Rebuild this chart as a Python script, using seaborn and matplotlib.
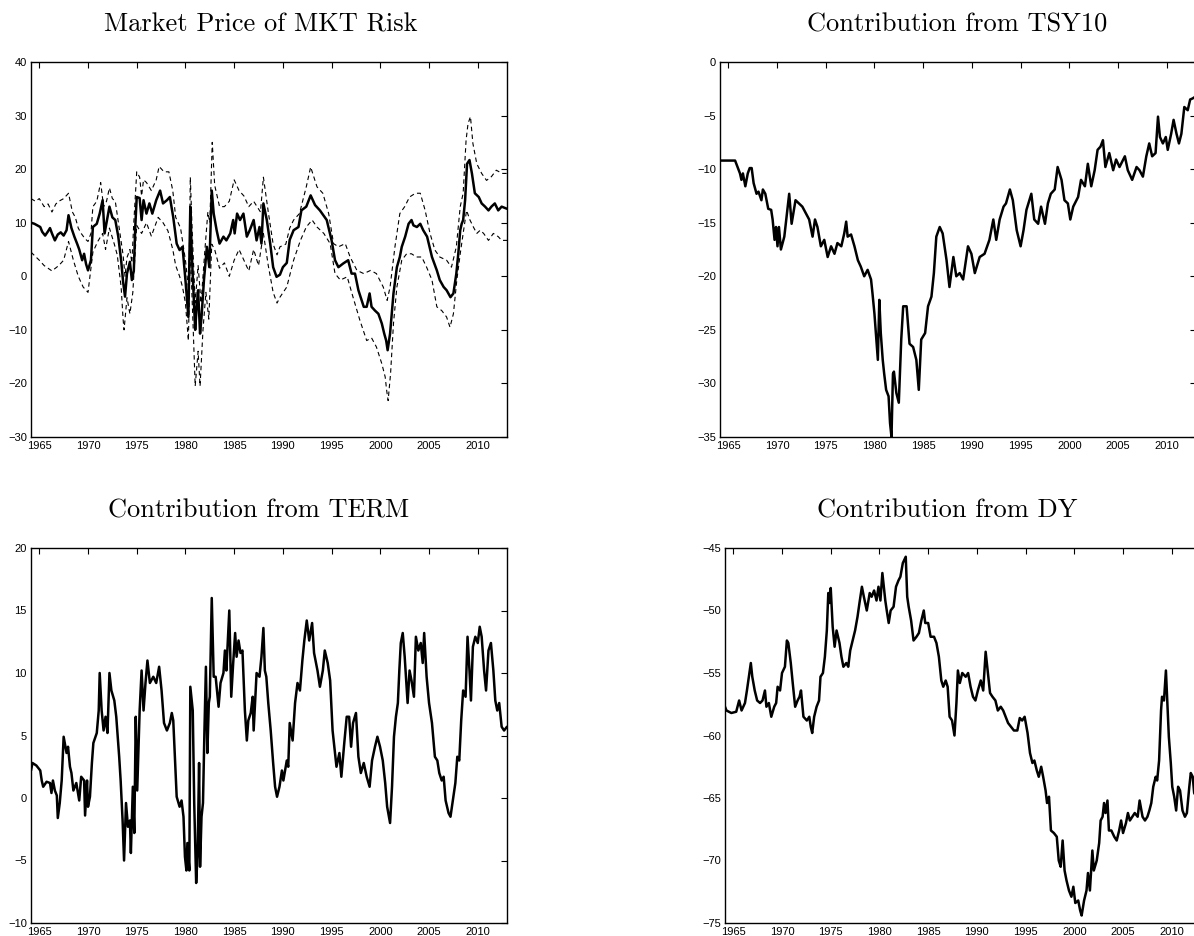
import matplotlib
matplotlib.use("Agg")
import matplotlib.pyplot as plt
import pandas as pd
import seaborn as sns

# ---- data (decimal years, values) ----
mkt_t = [1964.15, 1964.5, 1965.1, 1965.3, 1965.6, 1965.9, 1966.1, 1966.3, 1966.6, 1966.9,
         1967.2, 1967.5, 1967.8, 1968.0, 1968.3, 1968.6, 1968.9, 1969.1, 1969.4, 1969.6,
         1969.8, 1970.0, 1970.3, 1970.5, 1970.9, 1971.2, 1971.5, 1971.7, 1972.0, 1972.2,
         1972.5, 1972.8, 1973.1, 1973.4, 1973.6, 1973.8, 1974.0, 1974.3, 1974.5, 1974.7,
         1974.85, 1975.0, 1975.3, 1975.5, 1975.7, 1976.0, 1976.3, 1976.6, 1977.0, 1977.4,
         1977.7, 1978.1, 1978.4, 1978.75, 1979.1, 1979.4, 1979.7, 1980.0, 1980.3, 1980.5,
         1980.65, 1981.0, 1981.15, 1981.3, 1981.5, 1981.65, 1981.9, 1982.2, 1982.45, 1982.7,
         1982.9, 1983.2, 1983.5, 1983.9, 1984.2, 1984.6, 1984.9, 1985.05, 1985.3, 1985.6,
         1985.95, 1986.3, 1986.6, 1987.0, 1987.3, 1987.6, 1987.8, 1988.0, 1988.35, 1988.7,
         1989.0, 1989.35, 1989.7, 1990.0, 1990.4, 1990.7, 1991.1, 1991.6, 1991.9, 1992.4,
         1992.85, 1993.3, 1993.8, 1994.5, 1995.0, 1995.35, 1995.7, 1996.2, 1996.7, 1997.05,
         1997.4, 1997.75, 1998.3, 1998.6, 1998.9, 1999.1, 1999.45, 1999.8, 2000.15, 2000.4,
         2000.6, 2000.75, 2001.0, 2001.35, 2001.7, 2002.0, 2002.2, 2002.55, 2002.9, 2003.2,
         2003.4, 2003.75, 2004.1, 2004.4, 2004.8, 2005.3, 2005.8, 2006.1, 2006.5, 2006.8,
         2007.2, 2007.5, 2007.8, 2008.0, 2008.2, 2008.35, 2008.5, 2008.7, 2008.9, 2009.15,
         2009.4, 2009.7, 2010.1, 2010.4, 2010.75, 2011.1, 2011.4, 2011.75, 2012.1, 2012.45,
         2013.0]
mkt_mid = [10.0, 9.8, 9.2, 8.3, 7.6, 8.4, 9.0, 8.0, 6.7, 7.8,
           8.2, 7.6, 8.6, 11.4, 9.0, 7.4, 6.0, 5.0, 3.0, 4.2,
           2.3, 1.1, 3.0, 9.2, 9.8, 11.7, 14.2, 8.0, 11.0, 13.0,
           11.0, 10.5, 7.5, 3.0, -1.0, -3.8, 0.5, 2.7, -0.7, 1.0,
           9.2, 14.8, 14.6, 10.5, 14.2, 11.7, 13.6, 11.7, 14.2, 16.0,
           13.6, 14.2, 14.8, 11.0, 6.1, 4.9, 5.5, -0.7, -7.6, 13.0,
           4.2, -10.0, -5.7, -2.6, -10.7, -7.6, -0.7, 5.5, 1.7, 16.0,
           11.7, 8.6, 6.1, 7.4, 6.7, 8.0, 10.5, 8.0, 11.7, 10.5,
           11.7, 7.4, 8.6, 10.5, 6.7, 9.2, 6.1, 13.6, 10.5, 6.1,
           1.7, -0.1, 0.3, 1.7, 2.5, 6.8, 8.6, 9.2, 12.3, 13.0,
           15.1, 13.3, 12.3, 10.5, 6.7, 3.0, 1.7, 2.4, 3.0, 0.5,
           0.5, -2.6, -5.7, -5.7, -3.2, -5.7, -6.4, -7.0, -8.8, -10.7,
           -12.0, -13.8, -10.7, -3.2, 1.7, 3.6, 5.5, 7.4, 9.8, 10.5,
           9.5, 9.2, 9.8, 8.6, 7.4, 3.6, 1.1, -0.7, -2.0, -2.6,
           -3.9, -3.2, 0.5, 4.2, 8.6, 9.8, 10.5, 14.2, 21.0, 21.7,
           19.2, 15.5, 14.8, 13.6, 13.0, 12.3, 13.0, 13.6, 12.3, 13.0,
           12.6]

upper_t = [1964.15, 1964.6, 1965.0, 1965.5, 1965.9, 1966.3, 1966.7, 1967.0, 1967.5, 1968.0,
           1968.4, 1968.7, 1969.0, 1969.3, 1969.7, 1970.0, 1970.3, 1970.5, 1970.9, 1971.3,
           1971.6, 1971.9, 1972.2, 1972.5, 1972.8, 1973.2, 1973.6, 1973.8, 1974.0, 1974.3,
           1974.5, 1974.7, 1975.0, 1975.3, 1975.5, 1975.7, 1976.0, 1976.5, 1977.0, 1977.3,
           1977.8, 1978.3, 1978.7, 1979.0, 1979.5, 1980.0, 1980.35, 1980.5, 1980.7, 1981.0,
           1981.3, 1981.6, 1982.0, 1982.3, 1982.5, 1982.75, 1983.0, 1983.5, 1984.0, 1984.5,
           1985.0, 1985.5, 1986.0, 1986.5, 1987.0, 1987.7, 1988.0, 1988.5, 1989.0, 1989.4,
           1989.7, 1990.3, 1990.7, 1991.1, 1991.7, 1992.4, 1992.85, 1993.5, 1994.1, 1994.7,
           1995.2, 1995.7, 1996.4, 1996.9, 1997.6, 1998.3, 1999.0, 1999.6, 2000.3, 2000.7,
           2001.0, 2001.5, 2002.0, 2002.5, 2003.0, 2003.6, 2004.1, 2004.6, 2005.1, 2005.6,
           2006.1, 2006.8, 2007.3, 2007.8, 2008.2, 2008.5, 2008.8, 2009.0, 2009.25, 2009.5,
           2009.9, 2010.4, 2010.9, 2011.4, 2011.9, 2012.5, 2013.0]
upper_v = [14.5, 14.0, 14.5, 13.0, 13.5, 12.0, 13.5, 14.0, 14.5, 15.5,
           12.0, 11.0, 9.0, 8.0, 7.0, 6.5, 8.0, 13.0, 14.0, 17.5,
           13.0, 14.0, 16.5, 14.5, 14.0, 9.0, 4.0, 0.0, 3.5, 5.0,
           2.5, 10.0, 19.5, 18.5, 15.0, 18.0, 17.5, 16.0, 18.0, 20.5,
           19.5, 19.5, 16.0, 11.0, 9.0, 3.0, -3.0, 18.5, 8.0, -5.0,
           2.0, -5.0, 5.0, 12.0, 10.0, 25.0, 17.0, 13.0, 13.0, 14.0,
           18.0, 16.0, 15.0, 13.0, 14.0, 12.0, 18.5, 12.0, 6.0, 4.0,
           5.5, 6.0, 9.0, 10.5, 11.7, 16.7, 20.4, 16.7, 15.5, 11.7,
           6.1, 5.5, 6.1, 3.6, 1.1, 0.5, 1.1, 0.5, -2.0, -4.5,
           -2.0, 5.5, 11.7, 13.0, 14.8, 15.5, 15.5, 12.3, 8.0, 4.9,
           3.6, 3.0, 1.7, 5.5, 13.0, 15.5, 25.4, 28.5, 29.8, 24.8,
           21.0, 19.2, 17.9, 18.6, 19.8, 19.2, 19.2]

lower_t = [1964.15, 1965.0, 1965.5, 1966.3, 1967.0, 1967.5, 1968.0, 1968.5, 1969.0, 1969.5,
           1970.0, 1970.5, 1971.0, 1971.5, 1971.8, 1972.2, 1972.7, 1973.0, 1973.4, 1973.6,
           1973.7, 1974.0, 1974.3, 1974.6, 1975.0, 1975.5, 1976.0, 1976.5, 1977.2, 1977.7,
           1978.2, 1978.7, 1979.0, 1979.4, 1979.7, 1980.0, 1980.3, 1980.5, 1980.8, 1981.0,
           1981.3, 1981.5, 1981.8, 1982.1, 1982.4, 1982.7, 1983.0, 1983.5, 1984.0, 1984.5,
           1985.0, 1985.5, 1986.0, 1986.5, 1987.0, 1987.5, 1988.0, 1988.5, 1989.0, 1989.4,
           1989.7, 1990.4, 1991.1, 1991.8, 1992.4, 1993.0, 1993.5, 1994.2, 1994.85, 1995.35,
           1995.9, 1996.6, 1997.2, 1997.9, 1998.6, 1999.1, 1999.6, 2000.15, 2000.5, 2000.65,
           2000.8, 2001.05, 2001.35, 2001.7, 2002.2, 2002.7, 2003.2, 2003.7, 2004.25, 2004.75,
           2005.3, 2005.8, 2006.3, 2006.8, 2007.15, 2007.5, 2007.85, 2008.2, 2008.5, 2008.85,
           2009.2, 2009.55, 2009.9, 2010.25, 2010.6, 2011.1, 2011.6, 2012.1, 2012.45, 2013.0]
lower_v = [4.5, 3.0, 2.0, 1.0, 2.0, 3.0, 6.5, 3.0, 0.0, -2.0,
           -3.0, 4.5, 6.5, 8.0, 5.0, 9.0, 6.0, 4.0, -2.0, -8.0,
           -10.0, -4.0, -7.0, -3.0, 9.5, 8.0, 10.0, 7.5, 11.0, 10.0,
           8.5, 5.0, 2.0, 0.0, -2.0, -5.0, -12.0, 5.0, -10.0, -20.5,
           -14.0, -20.5, -10.0, -3.0, -8.0, 6.0, 5.0, 1.5, 2.5, 0.0,
           3.0, 5.0, 3.0, 1.0, 5.0, 2.0, 8.0, 2.0, -3.0, -5.0,
           -3.9, -2.0, 3.0, 6.7, 9.2, 10.5, 9.2, 8.0, 6.1, 0.5,
           -0.7, -0.1, -3.9, -8.2, -12.0, -11.5, -13.2, -16.3, -18.8, -21.3,
           -23.2, -18.2, -8.8, -2.0, 3.0, 4.2, 4.2, 3.6, 3.6, 1.7,
           -0.7, -5.7, -6.4, -7.6, -9.5, -7.0, -0.7, 4.2, 8.0, 12.3,
           10.5, 9.2, 8.0, 8.6, 8.0, 6.7, 8.0, 7.4, 6.7, 6.7]

tsy_t = [1964.15, 1965.0, 1965.7, 1966.2, 1966.35, 1966.5, 1966.75, 1967.0, 1967.2, 1967.4,
         1967.6, 1967.9, 1968.1, 1968.4, 1968.55, 1968.8, 1969.1, 1969.4, 1969.55, 1969.75,
         1969.9, 1970.05, 1970.2, 1970.4, 1970.75, 1971.1, 1971.25, 1971.5, 1971.9, 1972.25,
         1972.6, 1972.95, 1973.3, 1973.65, 1973.9, 1974.15, 1974.5, 1974.85, 1975.2, 1975.55,
         1975.9, 1976.2, 1976.6, 1976.9, 1977.1, 1977.25, 1977.6, 1977.95, 1978.3, 1978.6,
         1978.95, 1979.3, 1979.65, 1979.8, 1980.0, 1980.15, 1980.35, 1980.5, 1980.65, 1980.85,
         1981.0, 1981.2, 1981.45, 1981.6, 1981.75, 1981.9, 1982.0, 1982.25, 1982.5, 1982.75,
         1982.95, 1983.3, 1983.6, 1983.97, 1984.3, 1984.55, 1984.8, 1985.2, 1985.5, 1985.85,
         1986.1, 1986.35, 1986.7, 1987.0, 1987.4, 1987.7, 1988.1, 1988.4, 1988.75, 1989.1,
         1989.6, 1989.95, 1990.3, 1990.8, 1991.3, 1991.8, 1992.2, 1992.5, 1992.85, 1993.25,
         1993.5, 1993.9, 1994.2, 1994.6, 1995.0, 1995.3, 1995.6, 1996.1, 1996.4, 1996.8,
         1997.1, 1997.5, 1997.8, 1998.1, 1998.5, 1998.8, 1999.2, 1999.5, 1999.85, 2000.1,
         2000.4, 2000.9, 2001.2, 2001.6, 2001.9, 2002.25, 2002.6, 2002.9, 2003.2, 2003.45,
         2003.7, 2004.1, 2004.5, 2004.8, 2005.15, 2005.7, 2006.0, 2006.45, 2006.9, 2007.2,
         2007.55, 2007.9, 2008.2, 2008.5, 2008.85, 2009.1, 2009.3, 2009.6, 2009.9, 2010.1,
         2010.45, 2010.7, 2011.0, 2011.25, 2011.5, 2011.8, 2012.15, 2012.4, 2012.65, 2013.0]
tsy_v = [-9.2, -9.2, -9.2, -10.4, -11.0, -10.4, -11.6, -10.4, -9.9, -9.9,
         -11.3, -12.3, -12.1, -12.9, -11.9, -12.3, -13.7, -13.8, -14.7, -16.6,
         -15.4, -17.2, -15.4, -17.5, -16.3, -13.5, -12.3, -15.1, -12.9, -13.2,
         -13.5, -14.1, -14.7, -16.3, -14.7, -15.4, -17.2, -16.6, -18.2, -17.2,
         -17.9, -16.9, -17.2, -16.0, -14.9, -16.3, -16.1, -17.2, -18.5, -19.1,
         -20.0, -19.4, -20.3, -21.6, -23.5, -25.3, -27.8, -22.2, -25.3, -27.8,
         -29.1, -30.6, -31.2, -33.7, -35.0, -29.1, -28.9, -30.9, -31.8, -25.9,
         -22.8, -22.8, -26.3, -26.6, -27.8, -30.6, -25.9, -25.3, -22.8, -21.9,
         -19.7, -16.3, -15.4, -16.0, -18.5, -21.0, -18.2, -20.0, -19.7, -20.3,
         -17.2, -17.9, -19.7, -18.2, -17.9, -16.6, -14.7, -16.6, -14.7, -13.5,
         -13.2, -11.9, -12.9, -15.7, -17.2, -15.7, -13.8, -12.3, -14.7, -15.1,
         -13.5, -15.1, -13.2, -12.3, -11.9, -9.8, -11.0, -12.9, -13.2, -14.7,
         -13.5, -12.6, -11.0, -11.6, -9.5, -11.6, -10.1, -8.2, -7.9, -7.3,
         -9.8, -8.5, -10.1, -9.1, -9.8, -8.8, -10.1, -11.0, -9.8, -10.1,
         -10.7, -8.8, -7.6, -8.8, -8.5, -5.1, -7.0, -7.6, -7.0, -8.2,
         -6.7, -5.4, -6.7, -7.6, -6.7, -4.2, -4.5, -3.5, -3.4, -3.2]

term_t = [1964.15, 1964.3, 1964.7, 1965.1, 1965.25, 1965.4, 1965.75, 1966.1, 1966.25, 1966.4,
          1966.6, 1966.8, 1966.9, 1967.1, 1967.3, 1967.5, 1967.8, 1967.95, 1968.15, 1968.3,
          1968.5, 1968.8, 1969.1, 1969.3, 1969.6, 1969.7, 1969.9, 1970.0, 1970.2, 1970.4,
          1970.55, 1970.9, 1971.1, 1971.2, 1971.4, 1971.6, 1971.8, 1972.0, 1972.2, 1972.4,
          1972.7, 1972.9, 1973.2, 1973.35, 1973.55, 1973.7, 1973.9, 1974.1, 1974.3, 1974.4,
          1974.6, 1974.75, 1974.9, 1975.05, 1975.3, 1975.5, 1975.7, 1975.9, 1976.1, 1976.35,
          1976.7, 1977.0, 1977.3, 1977.55, 1977.8, 1978.1, 1978.4, 1978.6, 1978.75, 1978.9,
          1979.1, 1979.4, 1979.6, 1979.8, 1979.95, 1980.1, 1980.2, 1980.4, 1980.5, 1980.75,
          1980.9, 1981.1, 1981.25, 1981.4, 1981.5, 1981.65, 1981.8, 1981.95, 1982.1, 1982.25,
          1982.4, 1982.5, 1982.7, 1982.9, 1983.1, 1983.4, 1983.6, 1983.9, 1984.05, 1984.2,
          1984.5, 1984.7, 1984.9, 1985.1, 1985.25, 1985.45, 1985.65, 1985.85, 1986.1, 1986.3,
          1986.45, 1986.7, 1986.9, 1987.0, 1987.3, 1987.6, 1987.8, 1988.0, 1988.15, 1988.3,
          1988.5, 1988.75, 1989.0, 1989.2, 1989.4, 1989.65, 1989.9, 1990.05, 1990.4, 1990.55,
          1990.7, 1991.0, 1991.25, 1991.5, 1991.75, 1992.0, 1992.2, 1992.45, 1992.7, 1993.0,
          1993.2, 1993.55, 1993.8, 1994.1, 1994.3, 1994.6, 1994.85, 1995.1, 1995.35, 1995.5,
          1995.8, 1996.0, 1996.3, 1996.55, 1996.8, 1997.0, 1997.2, 1997.5, 1997.75, 1998.0,
          1998.3, 1998.6, 1998.9, 1999.15, 1999.45, 1999.7, 1999.97, 2000.25, 2000.5, 2000.7,
          2001.0, 2001.2, 2001.4, 2001.6, 2001.8, 2001.95, 2002.1, 2002.3, 2002.5, 2002.8,
          2003.0, 2003.2, 2003.45, 2003.65, 2003.9, 2004.15, 2004.35, 2004.5, 2004.75, 2005.0,
          2005.3, 2005.6, 2005.85, 2006.05, 2006.3, 2006.5, 2006.7, 2007.0, 2007.2, 2007.4,
          2007.7, 2007.9, 2008.1, 2008.3, 2008.5, 2008.75, 2008.95, 2009.15, 2009.3, 2009.5,
          2009.75, 2010.0, 2010.2, 2010.4, 2010.65, 2010.85, 2011.1, 2011.35, 2011.6, 2011.8,
          2012.0, 2012.2, 2012.45, 2012.7, 2013.0]
term_v = [2.2, 2.8, 2.6, 2.2, 1.4, 0.9, 1.3, 1.2, 0.4, 1.4,
          0.6, 0.2, -1.6, -0.4, 1.4, 4.9, 3.6, 4.1, 2.5, 2.0,
          0.6, 1.2, -0.2, 1.7, 1.4, -1.4, 1.4, -0.7, 0.1, 2.8,
          4.4, 5.2, 7.0, 10.0, 7.0, 5.4, 6.5, 5.2, 10.0, 8.6,
          7.8, 6.5, 3.3, 1.4, -1.8, -5.0, -0.4, -2.3, -1.8, -4.4,
          0.9, -2.8, 6.5, 0.6, 7.0, 10.2, 7.0, 9.2, 11.0, 9.2,
          9.7, 9.2, 10.5, 8.6, 6.0, 5.4, 6.0, 6.8, 6.2, 3.6,
          0.1, -0.7, -0.2, -1.5, -4.7, -5.8, -3.6, -5.8, 8.9, 7.0,
          -0.4, -6.8, -4.4, 2.8, -5.5, -1.5, -0.4, 5.4, 10.5, 3.6,
          7.6, 8.1, 16.0, 9.7, 9.7, 7.3, 9.2, 10.0, 11.8, 10.2,
          15.0, 8.1, 10.8, 13.2, 11.3, 12.6, 11.6, 11.8, 7.0, 4.6,
          6.2, 6.8, 8.1, 5.4, 10.0, 9.7, 11.3, 13.6, 10.2, 9.7,
          7.6, 5.4, 2.8, 0.9, 0.1, 0.9, 2.2, 1.4, 3.0, 2.5,
          6.0, 4.6, 7.6, 9.2, 8.6, 11.0, 12.6, 14.2, 12.6, 14.0,
          11.6, 10.2, 8.9, 10.2, 11.8, 10.8, 9.4, 5.4, 3.6, 2.5,
          3.6, 1.7, 4.4, 6.5, 6.5, 4.1, 6.0, 6.8, 3.3, 2.0,
          2.8, 1.7, 0.9, 3.0, 4.1, 4.9, 4.1, 3.0, 1.2, -0.7,
          -2.0, 0.9, 4.9, 6.5, 7.6, 10.2, 12.4, 13.2, 11.3, 7.6,
          10.2, 9.4, 8.1, 12.9, 11.8, 12.4, 10.8, 13.2, 9.7, 7.6,
          6.0, 3.3, 3.0, 2.0, 1.4, 1.7, -0.2, -1.2, -1.5, -0.4,
          1.2, 3.3, 3.0, 6.2, 8.6, 8.1, 12.9, 10.2, 7.8, 12.1,
          12.9, 12.4, 13.7, 12.9, 10.2, 8.6, 11.8, 12.4, 10.2, 7.8,
          7.0, 7.6, 5.7, 5.4, 5.7]

dy_t = [1964.15, 1964.3, 1964.8, 1965.3, 1965.6, 1965.85, 1966.2, 1966.4, 1966.6, 1966.8,
        1966.95, 1967.2, 1967.45, 1967.75, 1968.0, 1968.25, 1968.4, 1968.65, 1968.9, 1969.2,
        1969.4, 1969.55, 1969.8, 1970.0, 1970.3, 1970.5, 1970.65, 1970.9, 1971.1, 1971.35,
        1971.6, 1971.8, 1971.95, 1972.2, 1972.55, 1972.8, 1972.95, 1973.1, 1973.3, 1973.55,
        1973.8, 1973.95, 1974.2, 1974.4, 1974.6, 1974.75, 1974.9, 1975.0, 1975.2, 1975.4,
        1975.6, 1975.9, 1976.1, 1976.3, 1976.6, 1976.8, 1977.0, 1977.25, 1977.5, 1977.75,
        1977.95, 1978.2, 1978.4, 1978.7, 1979.0, 1979.2, 1979.45, 1979.7, 1979.9, 1980.1,
        1980.3, 1980.6, 1980.75, 1980.95, 1981.15, 1981.45, 1981.7, 1981.95, 1982.15, 1982.4,
        1982.7, 1982.85, 1983.0, 1983.25, 1983.5, 1983.8, 1984.05, 1984.3, 1984.55, 1984.7,
        1985.0, 1985.25, 1985.6, 1985.85, 1986.1, 1986.35, 1986.55, 1986.8, 1987.0, 1987.2,
        1987.45, 1987.7, 1987.9, 1988.05, 1988.25, 1988.5, 1988.85, 1989.1, 1989.35, 1989.6,
        1989.85, 1990.1, 1990.4, 1990.65, 1990.9, 1991.1, 1991.35, 1991.6, 1991.9, 1992.15,
        1992.45, 1992.7, 1992.95, 1993.2, 1993.5, 1993.8, 1994.15, 1994.4, 1994.65, 1994.9,
        1995.2, 1995.45, 1995.7, 1995.9, 1996.15, 1996.35, 1996.6, 1996.8, 1997.05, 1997.2,
        1997.4, 1997.6, 1997.9, 1998.2, 1998.4, 1998.6, 1998.8, 1999.0, 1999.2, 1999.45,
        1999.7, 1999.9, 2000.1, 2000.4, 2000.6, 2000.75, 2001.0, 2001.25, 2001.4, 2001.6,
        2001.85, 2002.0, 2002.3, 2002.55, 2002.7, 2002.9, 2003.05, 2003.2, 2003.4, 2003.55,
        2003.8, 2004.1, 2004.35, 2004.6, 2004.8, 2005.0, 2005.3, 2005.5, 2005.7, 2005.95,
        2006.2, 2006.5, 2006.7, 2007.0, 2007.25, 2007.5, 2007.7, 2007.9, 2008.1, 2008.35,
        2008.5, 2008.7, 2008.9, 2009.0, 2009.2, 2009.4, 2009.55, 2009.7, 2009.9, 2010.05,
        2010.25, 2010.45, 2010.65, 2010.85, 2011.1, 2011.35, 2011.55, 2011.8, 2011.95, 2012.15,
        2012.3, 2012.6, 2013.0]
dy_v = [-57.7, -58.0, -58.2, -58.1, -57.2, -58.0, -57.4, -56.4, -55.3, -54.2,
        -55.3, -56.4, -57.2, -57.4, -57.2, -56.4, -57.7, -57.4, -58.5, -57.7,
        -57.4, -56.1, -56.4, -55.0, -54.5, -52.4, -52.6, -54.2, -55.8, -57.7,
        -57.2, -56.9, -56.4, -58.5, -58.8, -58.5, -59.3, -59.8, -58.5, -57.7,
        -57.2, -55.3, -55.0, -53.7, -51.6, -48.6, -49.4, -48.2, -51.3, -52.9,
        -51.6, -52.6, -53.7, -54.5, -54.2, -54.5, -53.2, -52.4, -51.6, -50.5,
        -49.4, -48.1, -48.9, -50.0, -48.6, -48.9, -48.4, -49.2, -48.1, -49.2,
        -47.0, -49.2, -50.0, -51.0, -50.0, -49.7, -48.1, -47.6, -47.3, -46.2,
        -45.7, -48.9, -49.7, -50.8, -52.4, -52.1, -51.8, -50.8, -50.0, -51.0,
        -51.0, -52.1, -52.1, -52.6, -53.7, -55.6, -56.1, -55.6, -56.1, -58.5,
        -58.8, -60.0, -57.4, -54.8, -55.8, -55.0, -55.3, -55.0, -56.1, -56.9,
        -57.2, -56.4, -55.6, -56.4, -53.3, -54.8, -56.6, -56.9, -57.2, -58.0,
        -57.7, -58.0, -58.5, -59.0, -59.3, -59.6, -59.6, -58.6, -58.8, -58.5,
        -59.8, -61.4, -62.2, -62.0, -62.8, -63.3, -62.5, -63.3, -64.4, -65.4,
        -64.9, -67.6, -67.8, -68.1, -70.0, -70.5, -68.4, -70.8, -71.6, -72.4,
        -72.9, -72.1, -73.4, -73.2, -74.0, -74.4, -73.2, -72.4, -71.0, -72.4,
        -69.2, -70.8, -70.0, -68.6, -66.8, -66.5, -65.4, -66.2, -65.2, -67.6,
        -67.6, -68.1, -68.4, -67.6, -66.8, -67.8, -67.0, -66.2, -66.8, -66.5,
        -66.2, -66.5, -65.2, -66.5, -66.8, -66.5, -66.0, -65.4, -64.1, -63.3,
        -63.6, -62.0, -58.0, -56.9, -57.2, -54.8, -57.4, -60.1, -62.2, -64.1,
        -64.9, -66.0, -64.1, -64.4, -66.0, -66.5, -66.2, -64.1, -63.0, -63.3,
        -64.6, -65.0, -65.2]

titles = ["Market Price of MKT Risk", "Contribution from TSY10",
          "Contribution from TERM", "Contribution from DY"]
year_ticks = [1965, 1970, 1975, 1980, 1985, 1990, 1995, 2000, 2005, 2010]
ylims = [(-30, 40), (-35, 0), (-10, 20), (-75, -45)]
ystep = [10, 5, 5, 5]
xlim = (1964.15, 2013.0)

sns.set_style("white")
plt.rcParams['font.family'] = ['Liberation Sans', 'DejaVu Sans']

W, H = 1194, 936
fig = plt.figure(figsize=(W / 100, H / 100), dpi=100)


def add_px_axes(left, top, right, bottom):
    return fig.add_axes([left / W, 1 - bottom / H, (right - left) / W, (bottom - top) / H])


# right-hand panels run past the picture edge, as in the original export
boxes = [(31, 62, 507, 437), (720, 62, 1196, 437),
         (31, 548, 507, 923), (725, 548, 1201, 923)]
title_x = [0.483, 0.498, 0.479, 0.467]
axes = [add_px_axes(*b) for b in boxes]

mkt = pd.DataFrame({"t": mkt_t, "v": mkt_mid})
up = pd.DataFrame({"t": upper_t, "v": upper_v})
lo = pd.DataFrame({"t": lower_t, "v": lower_v})
sns.lineplot(data=up, x="t", y="v", ax=axes[0], color="k", lw=0.8, linestyle=(0, (4, 3)))
sns.lineplot(data=lo, x="t", y="v", ax=axes[0], color="k", lw=0.8, linestyle=(0, (4, 3)))
sns.lineplot(data=mkt, x="t", y="v", ax=axes[0], color="k", lw=1.8)

for ax, (t, v) in zip(axes[1:], [(tsy_t, tsy_v), (term_t, term_v), (dy_t, dy_v)]):
    sns.lineplot(data=pd.DataFrame({"t": t, "v": v}), x="t", y="v", ax=ax, color="k", lw=1.8)

for i, ax in enumerate(axes):
    lo_y, hi_y = ylims[i]
    ax.set_xlim(*xlim)
    ax.set_ylim(lo_y, hi_y)
    ax.set_xticks(year_ticks)
    ax.set_yticks(range(lo_y, hi_y + 1, ystep[i]))
    ax.set_xlabel("")
    ax.set_ylabel("")
    ax.tick_params(direction="in", top=True, right=True, length=4, width=0.8,
                   labelsize=8, pad=3, colors="k")
    for s in ax.spines.values():
        s.set_color("k")
        s.set_linewidth(1.0)
    ax.set_title(titles[i], fontfamily="cmr10", fontsize=19, pad=22, color="k",
                 x=title_x[i])

fig.savefig("out.png", dpi=100)
